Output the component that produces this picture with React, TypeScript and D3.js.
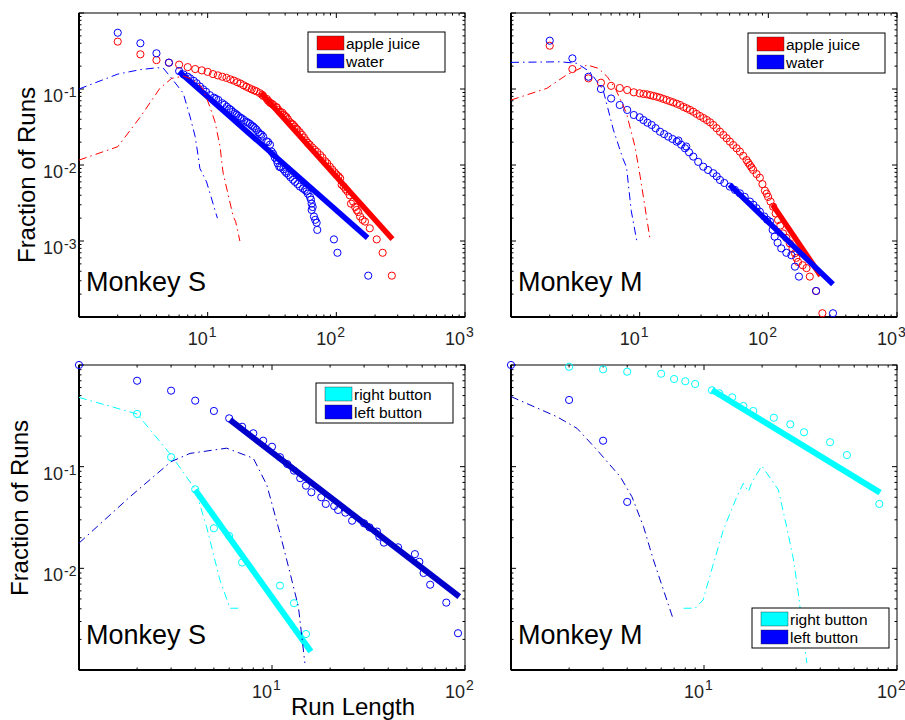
import * as d3 from "d3";

type Pt = [number, number];

// ---- Monkey S, apple juice vs water (run length, fraction of runs)
const sJuice: Pt[] = [
  [2, 0.42], [3, 0.286], [4, 0.24], [5, 0.222], [6, 0.209], [7, 0.194], [8, 0.183], [9, 0.176],
  [10, 0.168], [11, 0.157], [12, 0.151], [13, 0.145], [14, 0.14], [15, 0.134], [16, 0.129],
  [17, 0.123], [18, 0.118], [19, 0.112], [20, 0.107], [21, 0.103], [22, 0.099], [23, 0.096],
  [24, 0.093], [25.5, 0.088], [26.5, 0.084], [27, 0.081], [28.8, 0.074], [29.5, 0.07],
  [30.5, 0.066], [31.5, 0.064], [32.4, 0.0616], [34, 0.058], [34.5, 0.057], [35.5, 0.053],
  [36.5, 0.05], [38, 0.049], [39, 0.046], [40, 0.044], [41, 0.0425], [42, 0.04], [43.6, 0.0365],
  [45, 0.035], [46, 0.034], [47.5, 0.032], [49, 0.03], [50, 0.029], [52, 0.027], [54, 0.025],
  [56, 0.023], [58, 0.021], [60, 0.0195], [62, 0.0185], [65, 0.017], [68, 0.0158], [71, 0.0148],
  [75, 0.0135], [78, 0.0125], [82, 0.0112], [85, 0.0105], [89, 0.0095], [93, 0.0087],
  [97, 0.008], [100, 0.0075], [104, 0.0071], [107, 0.0067], [110, 0.0055], [114, 0.0052],
  [118, 0.0048], [122, 0.0045], [127, 0.004], [130, 0.0031], [135, 0.0033], [140, 0.0028],
  [144, 0.00256], [148, 0.0024], [153, 0.0021], [160, 0.0019], [167, 0.0018], [182, 0.00147],
  [206, 0.00105], [229, 0.0007], [270, 0.00035],
];
const sWater: Pt[] = [
  [2, 0.55], [3, 0.4], [4, 0.295], [5, 0.222], [6, 0.172], [6.5, 0.155], [7, 0.145], [7.3, 0.138],
  [7.8, 0.128], [8.2, 0.119], [8.7, 0.108], [9.2, 0.099], [9.7, 0.092], [10.4, 0.083],
  [11.2, 0.077], [11.6, 0.074], [12.1, 0.0716], [13, 0.065], [13.5, 0.062], [14.1, 0.0585],
  [14.7, 0.055], [15.2, 0.053], [15.7, 0.05], [16.3, 0.0479], [16.8, 0.046], [17.3, 0.044],
  [17.9, 0.042], [18.4, 0.0411], [19.2, 0.039], [20, 0.037], [20.6, 0.036], [21.3, 0.0347],
  [22, 0.033], [22.6, 0.032], [23.3, 0.0305], [24, 0.029], [24.8, 0.027], [25.5, 0.0255],
  [26.2, 0.025], [27, 0.0236], [28.7, 0.0205], [29.5, 0.02], [30.5, 0.0185], [31.4, 0.015],
  [32.3, 0.014], [33.3, 0.0125], [34.4, 0.0116], [35, 0.0105], [36, 0.0095], [37, 0.0093],
  [38.7, 0.0088], [40, 0.0082], [41.1, 0.0078], [42.6, 0.0074], [44, 0.0069], [46, 0.0064],
  [47.7, 0.006], [50, 0.0056], [52.1, 0.0052], [55, 0.0049], [57, 0.0047], [58.7, 0.0045],
  [60, 0.0042], [62.4, 0.0038], [63.5, 0.0035], [64.3, 0.0031], [64.3, 0.00256], [65.5, 0.0028],
  [67, 0.0021], [68.5, 0.0019], [70.3, 0.00174], [71.1, 0.0014], [95.8, 0.00105], [102, 0.0007],
  [177, 0.00035],
];
const sJuiceFit: Pt[] = [[26, 0.0886], [273, 0.00106]];
const sWaterFit: Pt[] = [[6, 0.169], [175, 0.0011]];
const sJuiceModel: Pt[] = [
  [1, 0.0116], [2, 0.0174], [3, 0.043], [4.25, 0.102], [5.25, 0.138], [6.5, 0.148], [7.5, 0.135],
  [8.5, 0.118], [9.2, 0.1], [10.4, 0.0585], [11.4, 0.037], [12.5, 0.0173], [12.9, 0.0105],
  [13.2, 0.0078], [15.8, 0.0021], [16.5, 0.0018], [17.8, 0.001],
];
const sWaterModel: Pt[] = [
  [1, 0.1], [2, 0.157], [3, 0.18], [4, 0.19], [4.5, 0.19], [5.25, 0.138], [6.46, 0.088],
  [7.3, 0.043], [8, 0.0236], [8.45, 0.0129], [8.7, 0.009], [9.8, 0.006], [11.9, 0.002],
];

// ---- Monkey M, apple juice vs water
const mJuice: Pt[] = [
  [2, 0.371], [3, 0.183], [4, 0.138], [5, 0.121], [6, 0.11], [7, 0.103], [8, 0.097], [9, 0.0905],
  [10, 0.0878], [10.7, 0.086], [11.4, 0.085], [12.1, 0.083], [12.8, 0.081], [13.6, 0.079],
  [14.4, 0.0769], [15.3, 0.074], [16.2, 0.0716], [17.2, 0.069], [18.2, 0.0668], [19.4, 0.064],
  [20.6, 0.0616], [21.9, 0.058], [23.2, 0.0557], [24.6, 0.053], [26.1, 0.0502], [27.7, 0.047],
  [29.4, 0.0441], [31.3, 0.0415], [33.2, 0.0391], [35.2, 0.0365], [37.3, 0.0336], [39.6, 0.0305],
  [42.1, 0.0274], [44.7, 0.0248], [47.4, 0.0225], [50.3, 0.0203], [53.3, 0.0183], [56.7, 0.0166],
  [60.1, 0.015], [63.8, 0.0132], [67.7, 0.0116], [69.8, 0.0107], [71.9, 0.01], [74, 0.0093],
  [76.2, 0.0086], [81, 0.0076], [85.9, 0.0068], [90, 0.0056], [94, 0.0046], [97, 0.0042],
  [99.6, 0.0038], [104, 0.0033], [109, 0.00283], [114, 0.0023], [119, 0.00189], [124, 0.0016],
  [130, 0.00126], [138, 0.0011], [147, 0.00093], [154, 0.0008], [161, 0.00069], [165, 0.0006],
  [170, 0.00053], [185, 0.00048], [198, 0.00044], [210, 0.00034], [235, 0.00022], [263, 0.000112],
];
const mWater: Pt[] = [
  [2, 0.432], [3, 0.253], [4, 0.145], [5, 0.1], [6, 0.075], [7, 0.0616], [8, 0.053], [9, 0.0455],
  [10, 0.0425], [10.7, 0.039], [11.5, 0.036], [12.4, 0.0336], [13.3, 0.0305], [14.4, 0.0274],
  [15.5, 0.0255], [16.7, 0.0236], [18, 0.022], [19.4, 0.0203], [20, 0.021], [21, 0.0185],
  [22.5, 0.0166], [23, 0.0175], [24.2, 0.0147], [26.1, 0.0129], [28.5, 0.011], [31.2, 0.0095],
  [34, 0.0086], [37.3, 0.0078], [39.7, 0.0071], [42.1, 0.00635], [45.5, 0.0058], [50.2, 0.0052],
  [55, 0.0047], [60.1, 0.00424], [65.5, 0.0038], [71.9, 0.0033], [76.5, 0.003], [81, 0.0027],
  [85.9, 0.00243], [93, 0.0021], [98, 0.0019], [103, 0.0018], [108, 0.0014], [112, 0.00114],
  [118, 0.00095], [126, 0.0008], [138, 0.0007], [151, 0.00065], [161, 0.00046], [173, 0.00034],
  [235, 0.00022], [318, 0.000112],
];
const mJuiceFit: Pt[] = [[108, 0.003], [255, 0.00035]];
const mWaterFit: Pt[] = [[50, 0.0055], [318, 0.00027]];
const mJuiceModel: Pt[] = [
  [1, 0.0716], [1.9, 0.102], [2.7, 0.153], [3.9, 0.207], [4.78, 0.187], [5.6, 0.145], [6.5, 0.1],
  [7.9, 0.048], [9.2, 0.0174], [10.1, 0.007], [11, 0.0028], [12.1, 0.001],
];
const mWaterModel: Pt[] = [
  [1, 0.224], [2.4, 0.228], [3.25, 0.218], [4.1, 0.169], [5.2, 0.097], [6.25, 0.029],
  [7.4, 0.0122], [7.9, 0.0094], [8.6, 0.0025], [9.5, 0.001],
];

// ---- Monkey S, right vs left button
const sRight: Pt[] = [
  [2, 0.33], [3, 0.124], [4, 0.0599], [5, 0.0248], [6, 0.0208], [7, 0.0114], [11, 0.00676],
  [13, 0.00454], [15, 0.00226],
];
const sLeft: Pt[] = [
  [1, 1], [2, 0.7], [3, 0.559], [4, 0.446], [5, 0.353], [6, 0.299], [7, 0.247], [8, 0.213],
  [9, 0.18], [10, 0.157], [11, 0.124], [12, 0.106], [13, 0.0914], [14, 0.077], [15, 0.065],
  [16, 0.056], [18, 0.05], [19, 0.043], [21, 0.041], [22, 0.0375], [24, 0.0353], [26, 0.0294],
  [30, 0.0277], [32, 0.0253], [35, 0.023], [36, 0.0205], [38, 0.0179], [45, 0.0161],
  [55, 0.0138], [58, 0.0116], [61, 0.009], [66, 0.0069], [80, 0.0046], [92, 0.0023],
];
const sRightFit: Pt[] = [[4, 0.059], [15.9, 0.00152]];
const sLeftFit: Pt[] = [[6.06, 0.288], [93.4, 0.00527]];
const sRightModel: Pt[] = [
  [1, 0.48], [2, 0.33], [3, 0.13], [4, 0.06], [4.58, 0.0257], [5.37, 0.0077], [6.06, 0.00405],
  [7, 0.00405],
];
const sLeftModel: Pt[] = [
  [1, 0.0177], [1.84, 0.0507], [3, 0.112], [3.76, 0.135], [5.82, 0.152], [8, 0.121],
  [9.4, 0.066], [11, 0.0221], [12.4, 0.009], [13.7, 0.0042], [14.8, 0.00117],
];

// ---- Monkey M, right vs left button
const mRight: Pt[] = [
  [2, 0.96], [3, 0.907], [4, 0.859], [6, 0.82], [7, 0.728], [8, 0.692], [9, 0.65], [11, 0.564],
  [12, 0.527], [14, 0.481], [16, 0.395], [18, 0.353], [23, 0.303], [28, 0.261], [33, 0.218],
  [45, 0.174], [55, 0.13], [81, 0.043],
];
const mLeft: Pt[] = [[1, 1], [2, 0.453], [3, 0.18], [4, 0.045]];
const mRightFit: Pt[] = [[11, 0.568], [81.7, 0.0555]];
const mLeftModel: Pt[] = [
  [1, 0.489], [1.73, 0.31], [2.2, 0.238], [2.79, 0.146], [3.68, 0.0797], [4.23, 0.0507],
  [4.86, 0.0257], [5.47, 0.0121], [6.17, 0.0061], [6.9, 0.00323],
];
const mRightModel: Pt[] = [
  [7.83, 0.00405], [9, 0.00405], [9.9, 0.0049], [11.2, 0.0112], [12.6, 0.0239], [14.8, 0.0507],
  [16, 0.0687], [17, 0.0568], [17.7, 0.07], [19.9, 0.1016], [22.4, 0.074], [24.3, 0.059],
  [26.8, 0.0257], [29.1, 0.0121], [30.8, 0.0057], [34.1, 0.00117],
];

const rewardNames = ["apple juice", "water"];
const buttonNames = ["right button", "left button"];
const topXLabels = [10, 100, 1000];
const topYLabels = [0.1, 0.01, 0.001];
const botXLabels = [10, 100];
const botYLabels = [0.1, 0.01];

const FONT = "'Liberation Sans', Arial, Helvetica, sans-serif";
const RED = "#ff0000";
const BLUE = "#0000ff";
const NAVY = "#0000cc";
const CYAN = "#00ffff";

type Series = { pts: Pt[]; color: string; width?: number };
type LegendSpec = { x: number; y: number; w: number; h: number; names: string[]; colors: string[] };

type PanelProps = {
  box: [number, number, number, number];
  xDomain: [number, number];
  yDomain: [number, number];
  xLabels: number[];
  yLabels: number[];
  circles: Series[];
  fits: Series[];
  models: Series[];
  name: string;
  legend: LegendSpec;
};

function Legend({ x, y, w, h, names, colors }: LegendSpec) {
  return (
    <g>
      <rect x={x} y={y} width={w} height={h} fill="white" stroke="black" strokeWidth={1} />
      {names.map((n, i) => (
        <g key={n}>
          <rect x={x + 9} y={y + 4 + i * 18} width={27} height={14} fill={colors[i]} stroke="#222" strokeWidth={0.4} />
          <text x={x + 38} y={y + 16.5 + i * 18} fontSize={15.5} fontFamily={FONT}>{n}</text>
        </g>
      ))}
    </g>
  );
}

function Panel(p: PanelProps) {
  const [x0, y0, x1, y1] = p.box;
  const x = d3.scaleLog().domain(p.xDomain).range([x0, x1]);
  const y = d3.scaleLog().domain(p.yDomain).range([y1, y0]);
  const ln = d3.line<Pt>().x((d) => x(d[0])).y((d) => y(d[1]));
  const major = (v: number) => Math.abs(Math.log10(v) - Math.round(Math.log10(v))) < 1e-6;
  const xt = x.ticks();
  const yt = y.ticks();

  return (
    <g>
      {/* ticks, inside on all sides */}
      {xt.map((v, i) => {
        const L = major(v) ? 5 : 2.5;
        const px = x(v);
        return (
          <g key={"xt" + i} stroke="black" strokeWidth={1}>
            <line x1={px} x2={px} y1={y1} y2={y1 - L} />
            <line x1={px} x2={px} y1={y0} y2={y0 + L} />
          </g>
        );
      })}
      {yt.map((v, i) => {
        const L = major(v) ? 5 : 2.5;
        const py = y(v);
        return (
          <g key={"yt" + i} stroke="black" strokeWidth={1}>
            <line x1={x0} x2={x0 + L} y1={py} y2={py} />
            <line x1={x1} x2={x1 - L} y1={py} y2={py} />
          </g>
        );
      })}
      <rect x={x0} y={y0} width={x1 - x0} height={y1 - y0} fill="none" stroke="black" strokeWidth={1} />
      <line x1={x0} x2={x0} y1={y0} y2={y1} stroke="black" strokeWidth={2} />
      <line x1={x0} x2={x1} y1={y1} y2={y1} stroke="black" strokeWidth={2} />

      {p.xLabels.map((v) => (
        <g key={"xl" + v} fontFamily={FONT} fill="#222">
          <text x={x(v)} y={y1 + 28} fontSize={18} textAnchor="end">10</text>
          <text x={x(v) + 1} y={y1 + 20} fontSize={14}>{Math.round(Math.log10(v))}</text>
        </g>
      ))}
      {p.yLabels.map((v) => (
        <g key={"yl" + v} fontFamily={FONT} fill="#222">
          <text x={x0 - 16} y={y(v) + 13} fontSize={18} textAnchor="end">10</text>
          <text x={x0 - 15} y={y(v) + 8} fontSize={14}>-{Math.round(-Math.log10(v))}</text>
        </g>
      ))}

      {p.circles.map((s, i) => (
        <g key={"c" + i} fill="none" stroke={s.color} strokeWidth={1}>
          {s.pts.map((d, j) => (
            <circle key={j} cx={x(d[0])} cy={y(d[1])} r={3.6} />
          ))}
        </g>
      ))}
      {p.fits.map((s, i) => (
        <path key={"f" + i} d={ln(s.pts) || ""} fill="none" stroke={s.color} strokeWidth={s.width || 5.5} />
      ))}
      {p.models.map((s, i) => (
        <path key={"m" + i} d={ln(s.pts) || ""} fill="none" stroke={s.color} strokeWidth={1} strokeDasharray="8,4,1.5,4" />
      ))}

      <text x={x0 + 7} y={y1 - 26} fontSize={27} fontFamily={FONT}>{p.name}</text>
      <Legend {...p.legend} />
    </g>
  );
}

export default function App() {
  return (
    <svg width={905} height={720} style={{ position: "absolute", left: 0, top: 0, background: "white" }}>
      <Panel
        box={[79, 13, 465, 317]}
        xDomain={[1, 1000]}
        yDomain={[1e-4, 1]}
        xLabels={topXLabels}
        yLabels={topYLabels}
        circles={[{ pts: sJuice, color: RED }, { pts: sWater, color: BLUE }]}
        fits={[{ pts: sJuiceFit, color: RED }, { pts: sWaterFit, color: BLUE }]}
        models={[{ pts: sJuiceModel, color: RED }, { pts: sWaterModel, color: BLUE }]}
        name="Monkey S"
        legend={{ x: 308, y: 32, w: 137, h: 40, names: rewardNames, colors: [RED, BLUE] }}
      />
      <Panel
        box={[511, 13, 897, 317]}
        xDomain={[1, 1000]}
        yDomain={[1e-4, 1]}
        xLabels={topXLabels}
        yLabels={[]}
        circles={[{ pts: mJuice, color: RED }, { pts: mWater, color: BLUE }]}
        fits={[{ pts: mJuiceFit, color: RED }, { pts: mWaterFit, color: BLUE }]}
        models={[{ pts: mJuiceModel, color: RED }, { pts: mWaterModel, color: BLUE }]}
        name="Monkey M"
        legend={{ x: 748, y: 33, w: 137, h: 40, names: rewardNames, colors: [RED, BLUE] }}
      />
      <Panel
        box={[79, 365, 465, 670]}
        xDomain={[1, 100]}
        yDomain={[1e-3, 1]}
        xLabels={botXLabels}
        yLabels={botYLabels}
        circles={[{ pts: sRight, color: CYAN }, { pts: sLeft, color: BLUE }]}
        fits={[{ pts: sRightFit, color: CYAN, width: 6 }, { pts: sLeftFit, color: NAVY, width: 6 }]}
        models={[{ pts: sRightModel, color: CYAN }, { pts: sLeftModel, color: NAVY }]}
        name="Monkey S"
        legend={{ x: 316, y: 383, w: 137, h: 40, names: buttonNames, colors: [CYAN, BLUE] }}
      />
      <Panel
        box={[511, 365, 897, 670]}
        xDomain={[1, 100]}
        yDomain={[1e-3, 1]}
        xLabels={botXLabels}
        yLabels={[]}
        circles={[{ pts: mRight, color: CYAN }, { pts: mLeft, color: BLUE }]}
        fits={[{ pts: mRightFit, color: CYAN, width: 6 }]}
        models={[{ pts: mLeftModel, color: NAVY }, { pts: mRightModel, color: CYAN }]}
        name="Monkey M"
        legend={{ x: 752, y: 608, w: 137, h: 40, names: buttonNames, colors: [CYAN, BLUE] }}
      />

      <text transform="translate(35,175) rotate(-90)" textAnchor="middle" fontSize={24} fontFamily={FONT}>
        Fraction of Runs
      </text>
      <text transform="translate(28,508) rotate(-90)" textAnchor="middle" fontSize={24} fontFamily={FONT}>
        Fraction of Runs
      </text>
      <text x={353} y={715} textAnchor="middle" fontSize={24} fontFamily={FONT}>
        Run Length
      </text>
    </svg>
  );
}
